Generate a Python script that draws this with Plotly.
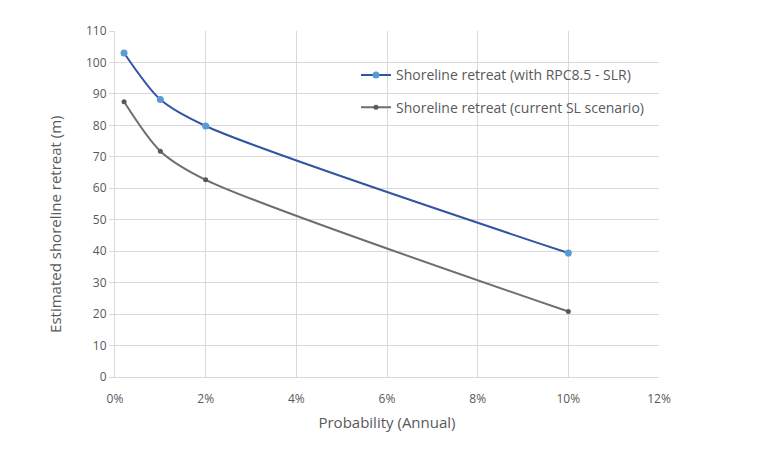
import plotly.graph_objects as go

# Annual exceedance probability (%) and estimated shoreline retreat (m)
probability = [0.2, 1, 2, 10]
retreat_rcp85 = [103, 88.2, 79.8, 39.4]
retreat_current = [87.5, 71.8, 62.7, 20.8]

x_ticks = [0, 2, 4, 6, 8, 10, 12]
x_tick_labels = ["0%", "2%", "4%", "6%", "8%", "10%", "12%"]
y_ticks = list(range(0, 111, 10))

font_family = "Open Sans, Liberation Sans, sans-serif"
text_color = "#595959"
grid_color = "#D9D9D9"

fig = go.Figure()
fig.add_trace(go.Scatter(
    x=probability, y=retreat_rcp85,
    mode="lines+markers",
    name="Shoreline retreat (with RPC8.5 - SLR)",
    legendgroup="rcp85",
    line=dict(color="#2F55A4", width=2, shape="spline", smoothing=0.8),
    marker=dict(color="#5B9BD5", size=7),
))
fig.add_trace(go.Scatter(
    x=probability, y=retreat_current,
    mode="lines+markers",
    name="Shoreline retreat (current SL scenario)",
    legendgroup="current",
    line=dict(color="#6E6E6E", width=2, shape="spline", smoothing=0.8),
    marker=dict(color="#595959", size=5),
))

fig.update_layout(
    width=761, height=470,
    margin=dict(l=115, r=102, t=31, b=93),
    paper_bgcolor="white", plot_bgcolor="white",
    font=dict(family=font_family, size=12, color=text_color),
    showlegend=True,
    legend=dict(
        x=0.443, y=0.918, xanchor="left", yanchor="top",
        bgcolor="rgba(0,0,0,0)", font=dict(size=14, color=text_color),
        traceorder="grouped", tracegroupgap=11,
    ),
    xaxis=dict(
        range=[0, 12], tickvals=x_ticks, ticktext=x_tick_labels,
        showgrid=True, gridcolor=grid_color, gridwidth=1,
        showline=True, linecolor=grid_color, linewidth=1,
        zeroline=False, ticks="", ticklabelstandoff=11,
        title=dict(text="Probability (Annual)", font=dict(size=15, color=text_color), standoff=11),
        tickfont=dict(size=12, color=text_color),
    ),
    yaxis=dict(
        range=[0, 110], tickvals=y_ticks,
        showgrid=True, gridcolor=grid_color, gridwidth=1,
        showline=True, linecolor=grid_color, linewidth=1,
        zeroline=False, ticks="outside", ticklen=5, tickcolor=grid_color,
        tickfont=dict(size=12, color=text_color),
    ),
    annotations=[dict(
        text="Estimated shoreline retreat (m)",
        xref="paper", yref="paper",
        x=-0.11, y=0.44, xanchor="center", yanchor="middle",
        textangle=-90, showarrow=False,
        font=dict(size=15, color=text_color),
    )],
)

fig.write_html("out.html")
